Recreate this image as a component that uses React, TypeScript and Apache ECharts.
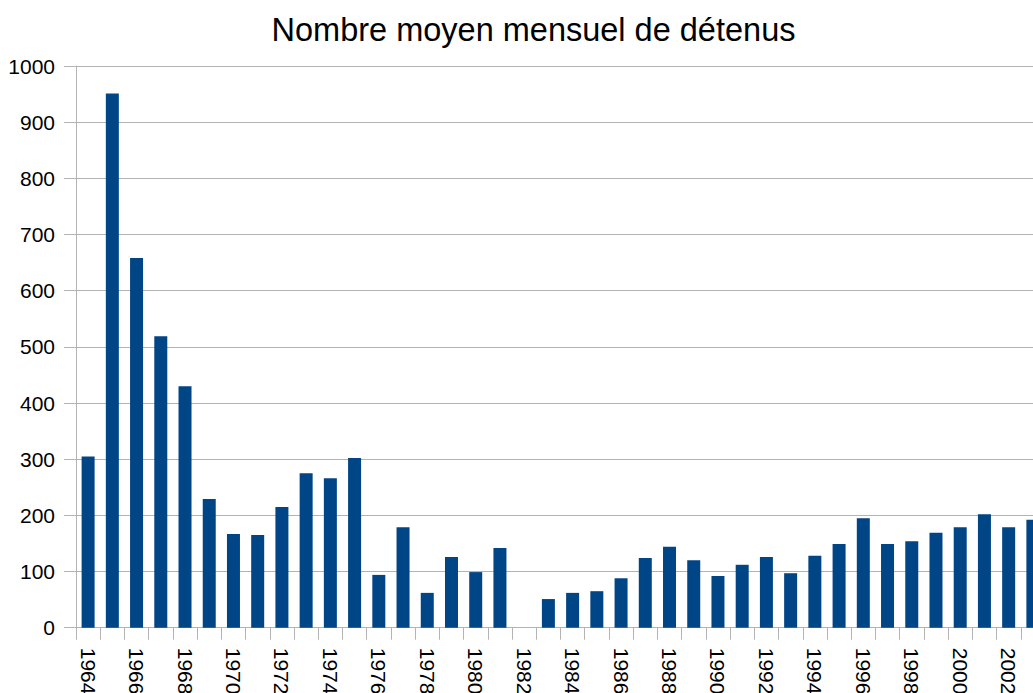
import React, { useEffect, useRef } from "react";
import * as echarts from "echarts";

const title = "Nombre moyen mensuel de détenus";
const years = [
  "1964", "1965", "1966", "1967", "1968", "1969", "1970", "1971", "1972", "1973",
  "1974", "1975", "1976", "1977", "1978", "1979", "1980", "1981", "1982", "1983",
  "1984", "1985", "1986", "1987", "1988", "1989", "1990", "1991", "1992", "1993",
  "1994", "1995", "1996", "1997", "1998", "1999", "2000", "2001", "2002", "2003",
];
const detenus = [
  305, 951, 658, 519, 430, 229, 167, 165, 215, 275,
  266, 302, 94, 179, 62, 126, 99, 142, 0, 51,
  62, 65, 88, 124, 144, 120, 92, 112, 126, 97,
  128, 149, 195, 149, 154, 169, 179, 202, 179, 192,
];
const yMin = 0;
const yMax = 1000;
const yStep = 100;

const FONT = "'Liberation Sans', Arial, sans-serif";
const GRAY = "#b3b3b3";

export default function App() {
  const ref = useRef<HTMLDivElement>(null);
  useEffect(() => {
    if (!ref.current) return;
    const chart = echarts.init(ref.current, undefined, { renderer: "svg" });
    chart.setOption({
      animation: false,
      backgroundColor: "#ffffff",
      title: {
        text: title,
        left: "center",
        top: 8,
        textStyle: { fontFamily: FONT, fontSize: 32.5, fontWeight: "normal", color: "#000" },
      },
      grid: { left: 76, right: 22, top: 66, bottom: 92.3, containLabel: false },
      xAxis: {
        type: "category",
        data: years,
        boundaryGap: true,
        axisLine: { show: true, lineStyle: { color: GRAY, width: 1 } },
        axisTick: { show: true, interval: 0, length: 12, lineStyle: { color: GRAY } },
        axisLabel: {
          interval: 1,
          rotate: -90,
          margin: 20,
          color: "#000",
          fontFamily: FONT,
          fontSize: 21,
        },
        splitLine: { show: false },
      },
      yAxis: {
        type: "value",
        min: yMin,
        max: yMax,
        interval: yStep,
        axisLine: { show: true, lineStyle: { color: GRAY, width: 1 } },
        axisTick: { show: true, length: 12, lineStyle: { color: GRAY } },
        axisLabel: {
          margin: 21,
          color: "#000",
          fontFamily: FONT,
          fontSize: 21,
          formatter: (v: number) => String(v),
        },
        splitLine: { show: true, lineStyle: { color: GRAY, width: 1 } },
      },
      series: [
        {
          type: "bar",
          data: detenus,
          barWidth: 13,
          itemStyle: { color: "#004586" },
        },
      ],
    });
    return () => chart.dispose();
  }, []);
  return (
    <div style={{ position: "fixed", left: 0, top: 0, width: 1033, height: 693, overflow: "hidden", background: "#fff" }}>
      <div ref={ref} style={{ width: 1067, height: 720 }} />
    </div>
  );
}
